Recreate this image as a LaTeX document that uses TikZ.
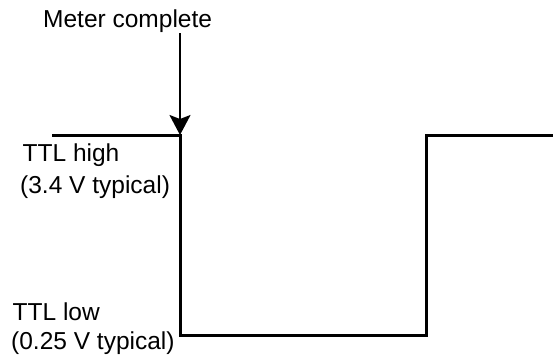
\documentclass[tikz,border=0pt]{standalone}
\usepackage{fontspec}
\setmainfont{Liberation Sans}
\usetikzlibrary{arrows.meta}
\tikzset{
  lbl/.style={anchor=base west, inner sep=0pt, font=\fontsize{24.5}{29}\selectfont},
  wave/.style={line width=3pt, line join=miter, line cap=butt},
  marker/.style={line width=2pt, -{Stealth[length=20pt, width=21pt, inset=4pt]}}
}
\begin{document}
\begin{tikzpicture}[x=1pt,y=-1pt]
\useasboundingbox (0,0) rectangle (553,354);
% waveform corners
\coordinate (w0) at (52,135);
\coordinate (w1) at (180,135);
\coordinate (w2) at (180,335);
\coordinate (w3) at (426,335);
\coordinate (w4) at (426,135);
\coordinate (w5) at (553,135);
\draw[wave] (w0) -- (w1) -- (w2) -- (w3) -- (w4) -- (w5);
% marker arrow
\node[lbl] (meter) at (43,27.5) {Meter complete};
\coordinate (mstart) at (180,33);
\draw[marker] (mstart) -- (w1);
% labels
\node[lbl] (hi1) at (22.5,161) {TTL high};
\node[lbl] (hi2) at (20,193.5) {(3.4 V typical)};
\node[lbl] (lo1) at (12.5,320) {TTL low};
\node[lbl] (lo2) at (11,349.3) {(0.25 V typical)};
\end{tikzpicture}
\end{document}
